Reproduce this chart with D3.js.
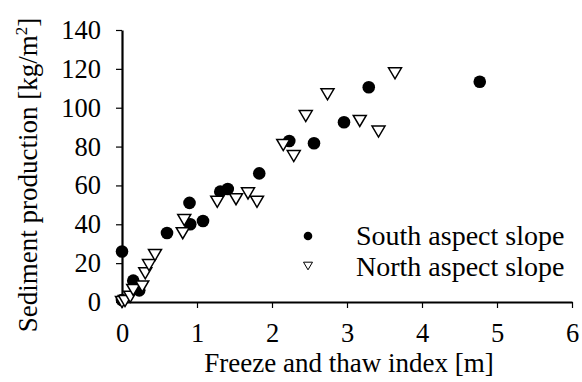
<!DOCTYPE html>
<html>
<head>
<meta charset="utf-8">
<script src="https://cdn.jsdelivr.net/npm/d3@7"></script>
<style>
  body { margin: 0; background: #fff; }
  text { font-family: "Liberation Serif", "Times New Roman", serif; fill: #000; }
</style>
</head>
<body>
<svg id="chart" width="582" height="382"></svg>
<script>
// South aspect slope (filled circles)
const southX = [0, 0, 0.15, 0.23, 0.6, 0.9, 0.91, 1.08, 1.31, 1.41, 1.83, 2.23, 2.56, 2.96, 3.29, 4.77];
const southY = [26, 1, 11, 6, 35.5, 51, 40, 41.7, 56.8, 58.2, 66.2, 82.9, 81.7, 92.5, 110.5, 113.4];

// North aspect slope (open triangles)
const northX = [0, 0.04, 0.11, 0.15, 0.27, 0.31, 0.36, 0.44, 0.81, 0.83, 1.27, 1.52, 1.68, 1.8, 2.15, 2.29, 2.45, 2.74, 3.17, 3.42, 3.64];
const northY = [0, 0.5, 2.7, 6.2, 8, 14.8, 19, 24.2, 35.4, 42.2, 51.6, 52.9, 55.9, 51.6, 80.8, 75.1, 95.7, 106.9, 93.2, 87.7, 117.7];

const xTicks = [0, 1, 2, 3, 4, 5, 6];
const yTicks = [0, 20, 40, 60, 80, 100, 120, 140];

const svg = d3.select("#chart");

const x = d3.scaleLinear().domain([0, 6]).range([122, 572]);
const y = d3.scaleLinear().domain([0, 140]).range([302, 30]);

// axes
const xAxis = svg.append("g")
  .attr("transform", `translate(0,${y(0)})`)
  .call(d3.axisBottom(x).tickValues(xTicks).tickFormat(d3.format("d"))
    .tickSize(6).tickSizeOuter(0).tickPadding(15));

const yAxis = svg.append("g")
  .attr("transform", `translate(${x(0)},0)`)
  .call(d3.axisLeft(y).tickValues(yTicks).tickFormat(d3.format("d"))
    .tickSize(6).tickSizeOuter(0).tickPadding(15));

[xAxis, yAxis].forEach(function (g) {
  g.attr("font-family", null).attr("font-size", null);
  g.select(".domain").attr("stroke", "#000").attr("stroke-width", 2.2);
  g.selectAll(".tick line").attr("stroke", "#000").attr("stroke-width", 1.2);
  g.selectAll(".tick text")
    .style("font-family", "Liberation Serif, serif")
    .style("font-size", "26.5px")
    .attr("fill", "#000");
});

// axis titles
svg.append("text")
  .attr("x", (x(0) + x(6)) / 2 + 2)
  .attr("y", 372)
  .attr("text-anchor", "middle")
  .style("font-size", "27px")
  .text("Freeze and thaw index [m]");

const yTitle = svg.append("text")
  .attr("transform", "translate(37,175) rotate(-90)")
  .attr("text-anchor", "middle")
  .style("font-size", "27px");
yTitle.append("tspan").text("Sediment production [kg/m");
yTitle.append("tspan").attr("dy", -10).style("font-size", "17px").text("2");
yTitle.append("tspan").attr("dy", 10).text("]");

// triangle symbol (pointing down)
function tri(s) {
  const h = s * 0.85;
  return `M${-s / 2},${-h / 2}L${s / 2},${-h / 2}L0,${h / 2}Z`;
}

// south points
svg.append("g")
  .selectAll("circle")
  .data(d3.zip(southX, southY))
  .join("circle")
  .attr("cx", d => x(d[0]))
  .attr("cy", d => y(d[1]))
  .attr("r", 6.3)
  .attr("fill", "#000");

// north points
svg.append("g")
  .selectAll("path")
  .data(d3.zip(northX, northY))
  .join("path")
  .attr("transform", d => `translate(${x(d[0])},${y(d[1])})`)
  .attr("d", tri(13))
  .attr("fill", "#fff")
  .attr("stroke", "#000")
  .attr("stroke-width", 1.5);

// legend
const legend = svg.append("g");
legend.append("circle").attr("cx", 308).attr("cy", 236).attr("r", 4.3).attr("fill", "#000");
legend.append("path")
  .attr("transform", "translate(308,266)")
  .attr("d", tri(9))
  .attr("fill", "#fff")
  .attr("stroke", "#000")
  .attr("stroke-width", 1);
legend.append("text").attr("x", 356).attr("y", 245).style("font-size", "28px").text("South aspect slope");
legend.append("text").attr("x", 356).attr("y", 276).style("font-size", "28px").text("North aspect slope");
</script>
</body>
</html>
